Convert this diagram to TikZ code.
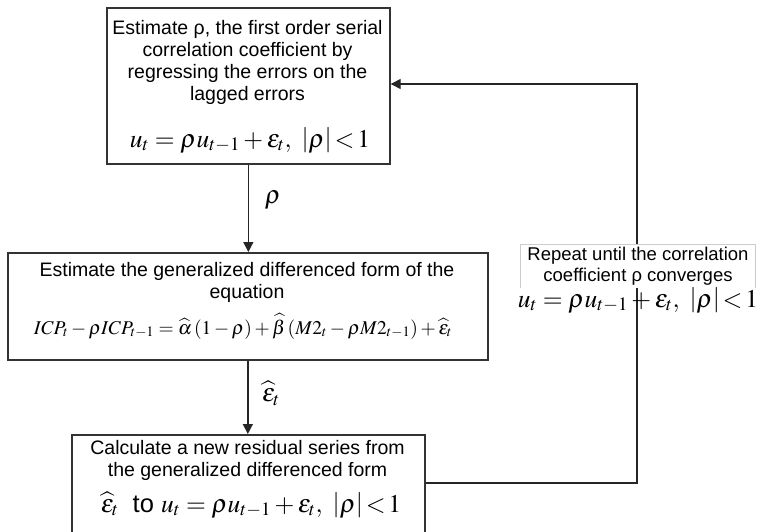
\documentclass[tikz,border=0pt]{standalone}
\usepackage{mathptmx}
\usepackage{fontspec}
\setmainfont{Liberation Sans}
\usetikzlibrary{arrows.meta}
\begin{document}
\begin{tikzpicture}[x=1pt,y=-1pt,
  box/.style={draw=black!80, line width=1.7pt, fill=white, inner sep=0pt},
  conn/.style={line width=1.4pt, draw=black!85, -{Triangle[width=10pt,length=10pt]}},
  txt/.style={align=center, inner sep=0pt},
  bigmath/.style={inner sep=0pt, font=\fontsize{25.5}{28}\selectfont}]
\clip (0,0) rectangle (765,531);
\fill[white] (0,0) rectangle (765,531);
% boxes
\node[box, minimum width=283pt, minimum height=156pt, anchor=north west] (b1) at (106,7) {};
\node[txt, anchor=north, font=\fontsize{19.5}{22}\selectfont] (t1) at (247.5,20.5)
  {Estimate ρ, the first order serial\\ correlation coefficient by\\ regressing the errors on the\\ lagged errors};
\node[bigmath, anchor=base] (e1) at (250,147) {$u_t=\rho u_{t-1}+\varepsilon_t,\ \left|\rho\right|\!<\!1$};

\node[box, minimum width=480pt, minimum height=107pt, anchor=north west] (b2) at (7,252) {};
\node[txt, anchor=north, font=\fontsize{19.5}{22}\selectfont] (t2) at (247,262)
  {Estimate the generalized differenced form of the\\ equation};
\node[inner sep=0pt, anchor=base, font=\fontsize{19.5}{21}\selectfont] (e2) at (243,334)
  {$ICP_t-\rho ICP_{t-1}=\widehat{\alpha}\,(1-\rho)+\widehat{\beta}\,(M2_t-\rho M2_{t-1})+\widehat{\varepsilon}_t$};

\node[box, minimum width=353pt, minimum height=140pt, anchor=north west] (b3) at (71,434) {};
\node[txt, anchor=north, font=\fontsize{19.5}{22}\selectfont] (t3) at (247.5,440.5)
  {Calculate a new residual series from\\ the generalized differenced form};
\node[bigmath, anchor=base] (e3) at (251,512) {$\widehat{\varepsilon}_t$ \ to $u_t=\rho u_{t-1}+\varepsilon_t,\ \left|\rho\right|\!<\!1$};

% connectors
\draw[conn] (b1.south) -- (b2.north -| b1.south);
\node[bigmath] (l1) at (273,200) {$\rho$};
\draw[conn] (b2.south) -- (b3.north -| b2.south);
\node[bigmath] (l2) at (271,393) {$\widehat{\varepsilon}_t$};

\coordinate (c1) at (637,483);
\coordinate (c2) at (637,84);
\draw[conn] (b3.east |- c1) -- (c1) -- (c2) -- (b1.east |- c2);

\node[txt, fill=white, minimum width=234pt, minimum height=44pt,
  font=\fontsize{18.5}{21}\selectfont, anchor=north] (rl) at (638,244)
  {Repeat until the correlation\\ coefficient ρ converges};
\draw[black!20, line width=0.8pt] (rl.south west) -- (rl.north west) -- (rl.north east) -- (rl.south east);
\node[bigmath, anchor=base] (e4) at (638,307) {$u_t=\rho u_{t-1}+\varepsilon_t,\ \left|\rho\right|\!<\!1$};
\end{tikzpicture}
\end{document}
